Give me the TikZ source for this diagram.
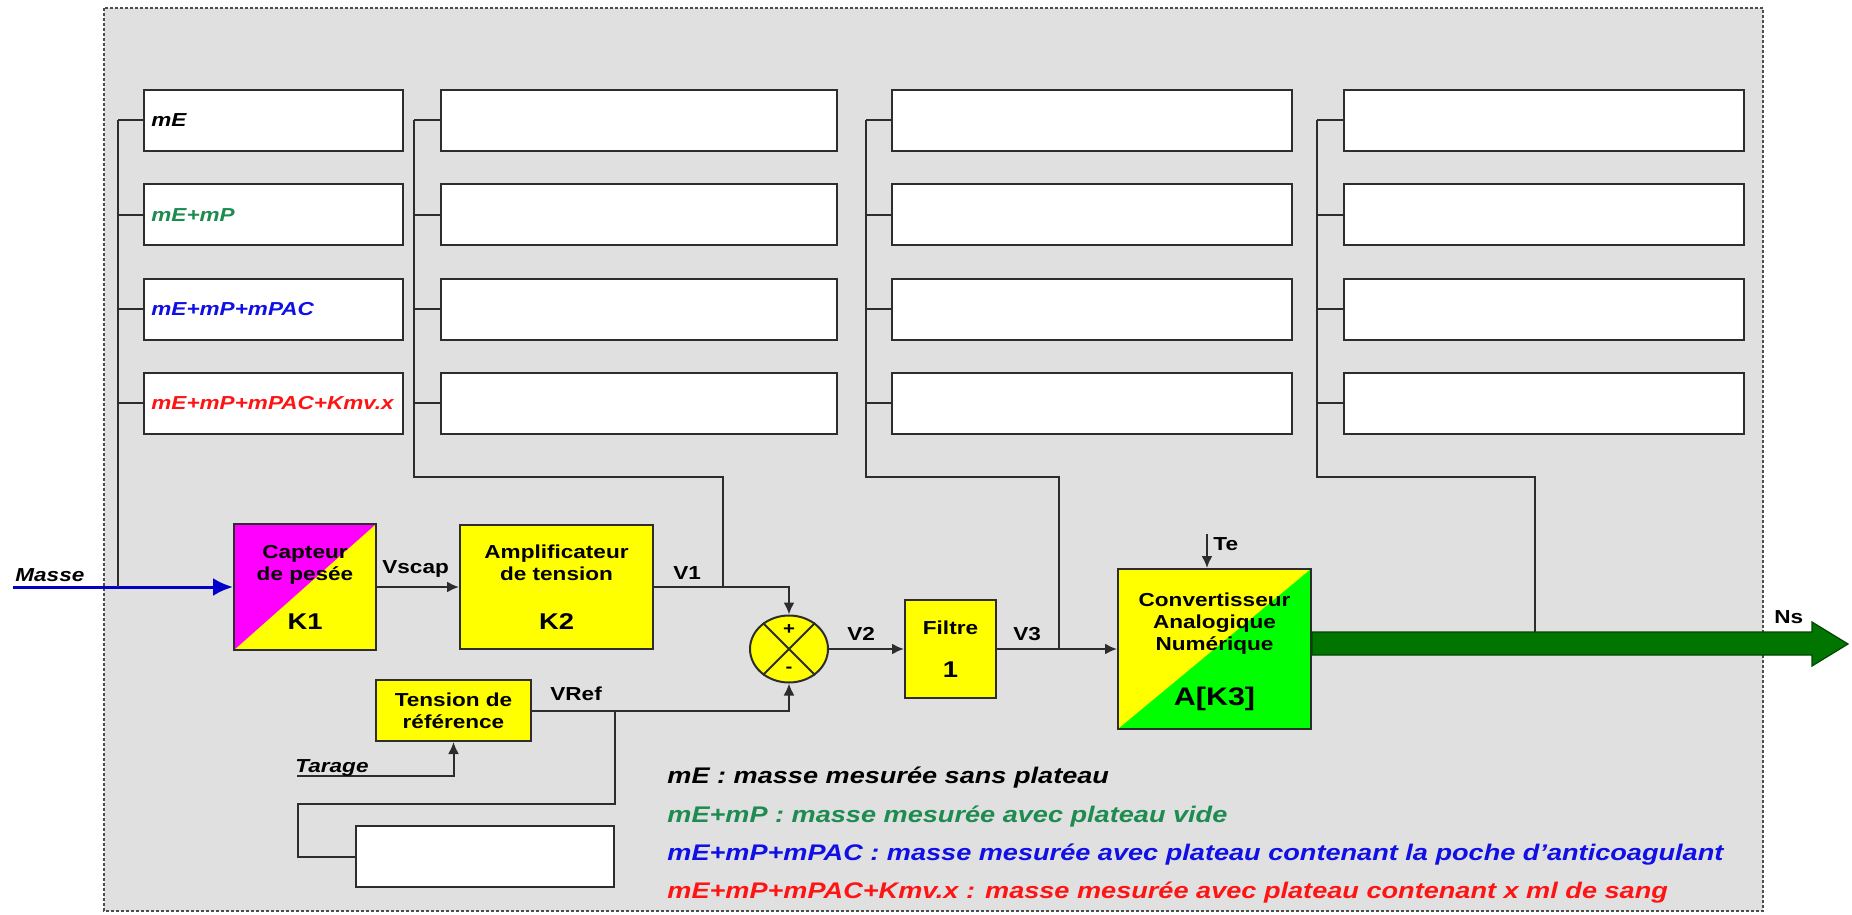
\documentclass[tikz,border=0pt]{standalone}
\usepackage{fontspec}
\setmainfont{Liberation Sans}[FakeStretch=1.2]
\usetikzlibrary{arrows.meta,shapes.geometric}
\definecolor{bggray}{RGB}{224,224,224}
\definecolor{wirecol}{RGB}{45,45,45}
\definecolor{blkyellow}{RGB}{255,255,0}
\definecolor{capmagenta}{RGB}{255,0,255}
\definecolor{cangreen}{RGB}{0,255,0}
\definecolor{leggreen}{RGB}{30,140,80}
\definecolor{legblue}{RGB}{15,15,230}
\definecolor{legred}{RGB}{255,20,20}
\definecolor{nsgreen}{RGB}{0,118,0}
\definecolor{inblue}{RGB}{0,0,200}
\newcommand{\kfont}{\fontsize{11.4}{13}\selectfont}

\begin{document}
\begin{tikzpicture}[x=0.5pt,y=-0.5pt,>={Latex[length=6pt,width=5.5pt]},
  wire/.style={draw=wirecol,line width=1pt},
  box/.style={draw=wirecol,line width=1pt,fill=white,minimum height=30.5pt,inner sep=0pt},
  blk/.style={draw=wirecol,line width=1pt,fill=blkyellow,inner sep=0pt,align=center,
    font={\bfseries\fontsize{9.4}{11}\selectfont}},
  lbl/.style={inner sep=0pt,anchor=base west,font={\bfseries\fontsize{9.4}{11}\selectfont}},
  ilbl/.style={lbl,font={\bfseries\itshape\fontsize{9.4}{11}\selectfont}},
  leg/.style={lbl,font={\bfseries\itshape\fontsize{11.3}{13}\selectfont}}]
\fill[white] (0,0) rectangle (1852,915);
\useasboundingbox (0,0) rectangle (1852,915);
\draw[draw=black!70,fill=bggray,line width=1pt,dash pattern=on 1.5pt off 1pt] (104,8) rectangle (1763,911);

% tableaux de mesures
\foreach \c/\xl/\w/\xb in {1/143/129.5pt/118,2/440/198pt/414,3/891/200pt/866,4/1343/200pt/1317}{
  \coordinate (t\c) at (\xb,120);
  \foreach \r in {1,...,4}{
    \node[box,minimum width=\w,anchor=north west] (b\c\r) at (\xl,{89+94.3*(\r-1)}) {};
    \draw[wire] (b\c\r.west) -- (b\c\r.west -| t\c);
  }
}
\node[ilbl,anchor=west] (m1) at ([xshift=4pt]b11.west) {mE};
\node[ilbl,anchor=west,text=leggreen] (m2) at ([xshift=4pt]b12.west) {mE+mP};
\node[ilbl,anchor=west,text=legblue] (m3) at ([xshift=4pt]b13.west) {mE+mP+mPAC};
\node[ilbl,anchor=west,text=legred] (m4) at ([xshift=4pt]b14.west) {mE+mP+mPAC+Kmv.x};

% chaine de mesure
\node[blk,minimum width=71pt,minimum height=63pt,
  path picture={\fill[capmagenta] (path picture bounding box.north west) -- (path picture bounding box.north east)
    -- (path picture bounding box.south west) -- cycle;}] (cap) at (305,587) {Capteur\\de pesée\\[13.5pt]\kfont K1};
\node[blk,minimum width=96.5pt,minimum height=62pt] (amp) at (556.5,587) {Amplificateur\\de tension\\[13.5pt]\kfont K2};
\node[ellipse,draw=wirecol,line width=1pt,fill=blkyellow,minimum width=39pt,minimum height=33.5pt,inner sep=0pt] (sum) at (789,649) {};
\draw[wire] (sum.45) -- (sum.225) (sum.135) -- (sum.315);
\node[inner sep=0pt,font={\bfseries\fontsize{8.5}{9}\selectfont}] (plus) at (789,630) {+};
\node[inner sep=0pt,font={\bfseries\fontsize{8.5}{9}\selectfont}] (minus) at (789,670) {-};
\node[blk,minimum width=45.5pt,minimum height=49pt] (fil) at (950.5,649) {Filtre\\[10.5pt]\kfont 1};
\node[blk,minimum width=96.5pt,minimum height=80pt,
  path picture={\fill[cangreen] (path picture bounding box.south west) -- (path picture bounding box.north east)
    -- (path picture bounding box.south east) -- cycle;}] (can) at (1214.5,649)
  {Convertisseur\\Analogique\\Numérique\\[16.5pt]{\fontsize{12.7}{14}\selectfont\smash{A[K3]}}};
\node[blk,minimum width=77.5pt,minimum height=30.5pt] (ref) at (453.5,710.5) {Tension de\\référence};
\node[box,minimum width=129pt] (vbox) at (485,856.5) {};

\coordinate (in) at (13,587);
\draw[draw=inblue,line width=1.5pt,-{Latex[length=10pt,width=9pt]}] (in) -- (cap.west);
\node[ilbl] (masse) at (15,581) {Masse};
\draw[wire] (t1) -- (t1 |- cap.west);
\draw[wire,->] (cap) -- (amp);
\node[lbl] (vscap) at (382,573) {Vscap};
\coordinate (j2) at (723,477);
\draw[wire] (t2) |- (j2) -- (j2 |- amp.east);
\draw[wire,->] (amp.east) -| (sum.north);
\node[lbl] (v1) at (673,579) {V1};
\draw[wire,->] (ref.east) -| (sum.south);
\node[lbl] (vref) at (550,700) {VRef};
\coordinate (r1) at (615,804);
\coordinate (r2) at (298,804);
\draw[wire] (r1 |- ref.east) -- (r1) -- (r2) |- (vbox.west);
\coordinate (tar) at (297,776);
\draw[wire,->] (tar) -| (ref.south);
\node[ilbl] (tarage) at (295,772) {Tarage};
\draw[wire,->] (sum) -- (fil);
\node[lbl] (v2) at (847,640) {V2};
\draw[wire,->] (fil) -- (can);
\node[lbl] (v3) at (1013,640) {V3};
\coordinate (j3) at (1059,477);
\draw[wire] (t3) |- (j3) -- (j3 |- fil.east);
\coordinate (te) at (1207,534);
\draw[wire,->] (te) -- (te |- can.north);
\node[lbl] (telbl) at (1213,550) {Te};
\coordinate (ns) at (1848,644);
\coordinate (j4) at (1535,477);
\draw[wire] (t4) |- (j4) -- (j4 |- ns);
\filldraw[draw=nsgreen!60!black,fill=nsgreen,line width=0.6pt] (can.east |- 0,632) -- (1812,632) -- (1812,622) -- (ns)
  -- (1812,666) -- (1812,655) -- (can.east |- 0,655) -- cycle;
\node[lbl] (nslbl) at (1774,623) {Ns};

% legende
\node[leg] (leg1) at (667,783) {mE : masse mesurée sans plateau};
\node[leg,text=leggreen] (leg2) at (667,822) {mE+mP : masse mesurée avec plateau vide};
\node[leg,text=legblue] (leg3) at (667,860) {mE+mP+mPAC : masse mesurée avec plateau contenant la poche d'anticoagulant};
\node[leg,text=legred] (leg4) at (667,898) {mE+mP+mPAC+Kmv.x : masse mesurée avec plateau contenant x ml de sang};
\end{tikzpicture}
\end{document}
